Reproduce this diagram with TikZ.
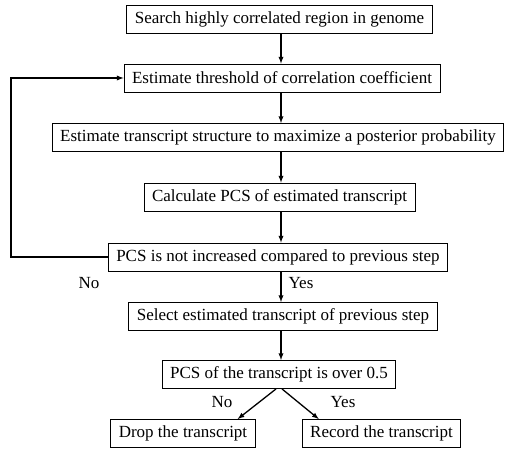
\documentclass[tikz,border=0pt]{standalone}
\usepackage{fontspec}
\setmainfont{Liberation Serif}
\usepackage{tikz}
\usetikzlibrary{calc,shapes,arrows}

\begin{document}
\begin{tikzpicture}[x=1pt,y=-1pt,
        stepbox/.style={draw,line width=0.9pt,inner xsep=8pt,inner ysep=0pt,minimum height=28pt,font=\fontsize{17}{20}\selectfont},
        lbl/.style={inner sep=0pt,font=\fontsize{17}{20}\selectfont},
        flow/.style={-latex,line width=1.3pt}]
        \useasboundingbox (0,0) rectangle (505,449);
        % boxes of the flow
        \node[stepbox] (search) at (279.5,19) {Search highly correlated region in genome};
        \node[stepbox] (thresh) at (282,78) {Estimate threshold of correlation coefficient};
        \node[stepbox] (struct) at (278,137.5) {Estimate transcript structure to maximize a posterior probability};
        \node[stepbox] (calc) at (279.5,197) {Calculate PCS of estimated transcript};
        \node[stepbox] (check) at (278,257) {PCS is not increased compared to previous step};
        \node[stepbox] (select) at (283,316.5) {Select estimated transcript of previous step};
        \node[stepbox] (over) at (279,374.5) {PCS of the transcript is over 0.5};
        \node[stepbox] (drop) at (183,433.5) {Drop the transcript};
        \node[stepbox] (record) at (381.5,433.5) {Record the transcript};
        % labels
        \node[lbl] (noloop) at (89,283) {No};
        \node[lbl] (yesloop) at (301,283) {Yes};
        \node[lbl] (nodrop) at (222,402) {No};
        \node[lbl] (yesrec) at (343,402) {Yes};
        % arrows
        \draw[flow] (search.south -| 281,0) -- (thresh.north -| 281,0);
        \draw[flow] (thresh.south -| 281,0) -- (struct.north -| 281,0);
        \draw[flow] (struct.south -| 281,0) -- (calc.north -| 281,0);
        \draw[flow] (calc.south -| 281,0) -- (check.north -| 281,0);
        \draw[flow] (check.south -| 281,0) -- (select.north -| 281,0);
        \draw[flow] (select.south -| 281,0) -- (over.north -| 281,0);
        \coordinate (back) at (11,257);
        \draw[flow] (check.west) -- (back) |- (thresh.west);
        \draw[flow] ($(over.south)+(-3,0)$) -- ($(drop.north east)+(-18,0)$);
        \draw[flow] ($(over.south)+(3,0)$) -- ($(record.north west)+(17,0)$);
    \end{tikzpicture}
\end{document}
